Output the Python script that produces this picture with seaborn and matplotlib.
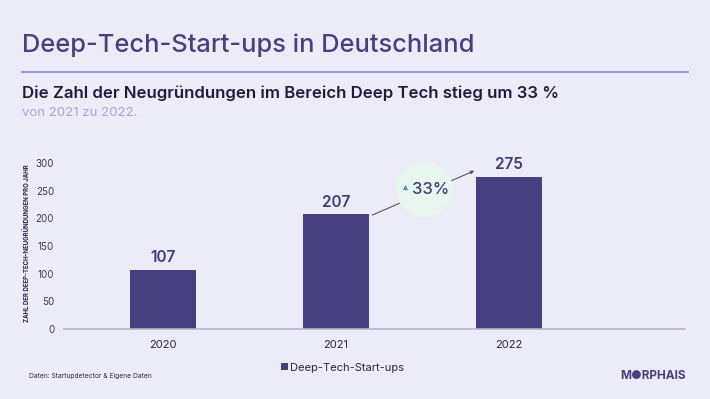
import numpy as np
import pandas as pd
import matplotlib
matplotlib.use("Agg")
import matplotlib.pyplot as plt
import seaborn as sns

years = ["2020", "2021", "2022"]
counts = [107, 207, 275]
y_ticks = [0, 50, 100, 150, 200, 250, 300]
series_name = "Deep-Tech-Start-ups"
growth_label = "33%"

bg = "#ECEBF8"
bar_col = "#463F80"
title_col = "#463F80"
dark = "#1F1C3B"
light_purple = "#A7A2DB"

sns.set_style("white")
plt.rcParams["font.family"] = ["Inter", "DejaVu Sans"]

fig = plt.figure(figsize=(7.1, 3.99), dpi=100, facecolor=bg)
ax = fig.add_axes([0.090, 0.1754, 0.875, 0.416])
ax.set_facecolor(bg)

df = pd.DataFrame({"Jahr": years, "Anzahl": counts})
sns.barplot(data=df, x="Jahr", y="Anzahl", color=bar_col, width=0.38,
            saturation=1, label=series_name, linewidth=0, ax=ax)

ax.set_xlim(-0.575, 3.02)
ax.set_ylim(0, 300)
ax.set_yticks(y_ticks)
ax.tick_params(axis="y", length=0, labelsize=7, colors="#3A3850", pad=7)
ax.tick_params(axis="x", length=3, width=0.8, color="#B0AECB", labelsize=8,
               labelcolor="#2A2840", pad=5)
for s in ["top", "right", "left"]:
    ax.spines[s].set_visible(False)
ax.spines["bottom"].set_color("#B4B2CF")
ax.spines["bottom"].set_linewidth(1.2)
ax.set_xlabel("")
ax.set_ylabel("ZAHL DER DEEP-TECH-NEUGRÜNDUNGEN PRO JAHR", fontsize=4.4,
              color="#2A2840", fontweight="bold")
ax.yaxis.set_label_coords(-0.054, 0.52)

# value labels
for i, v in enumerate(counts):
    ax.text(i, v + 9, str(v), ha="center", va="bottom", fontsize=11,
            color="#3F3A78", fontweight="semibold", clip_on=False)

# growth arrow with circle badge
ax.annotate("", xy=(1.80, 286), xytext=(1.21, 206),
            arrowprops=dict(arrowstyle="-|>", color="#55546A", lw=0.8,
                            mutation_scale=5, shrinkA=0, shrinkB=0),
            annotation_clip=False)
ax.scatter([1.506], [253], s=1650, color="#E7F6EE", zorder=5, clip_on=False,
           linewidths=0)
ax.scatter([1.40], [256], s=14, marker="^", color="#3AA58A", zorder=6,
           clip_on=False, linewidths=0)
ax.text(1.55, 253, growth_label, ha="center", va="center", fontsize=12,
        color="#3F3A78", fontweight="medium", zorder=7)

leg = ax.legend(loc="center", bbox_to_anchor=(0.483, 0.078),
                bbox_transform=fig.transFigure, frameon=False, fontsize=8,
                handlelength=0.6, handleheight=0.6, handletextpad=0.2,
                labelcolor="#2A2840")

# header
fig.text(0.031, 0.887, "Deep-Tech-Start-ups in Deutschland", fontsize=18.3,
         color=title_col, fontweight="medium", va="center", ha="left")
fig.add_artist(plt.Line2D([0.031, 0.969], [0.819, 0.819], color="#9C99D8",
                          lw=1.5))
fig.text(0.031, 0.767, "Die Zahl der Neugründungen im Bereich Deep Tech stieg um 33 %",
         fontsize=12.1, color=dark, fontweight="semibold", va="center", ha="left")
fig.text(0.031, 0.717, "von 2021 zu 2022.", fontsize=9.5, color=light_purple,
         va="center", ha="left")

# footer
fig.text(0.041, 0.058, "Daten: Startupdetector & Eigene Daten", fontsize=4.8,
         color="#2A2840", va="center", ha="left")
fig.text(0.966, 0.058, "M\u25CFRPHAIS", fontsize=8.5, color=bar_col,
         fontweight="bold", va="center", ha="right")

fig.savefig("out.png", dpi=100, facecolor=bg)
